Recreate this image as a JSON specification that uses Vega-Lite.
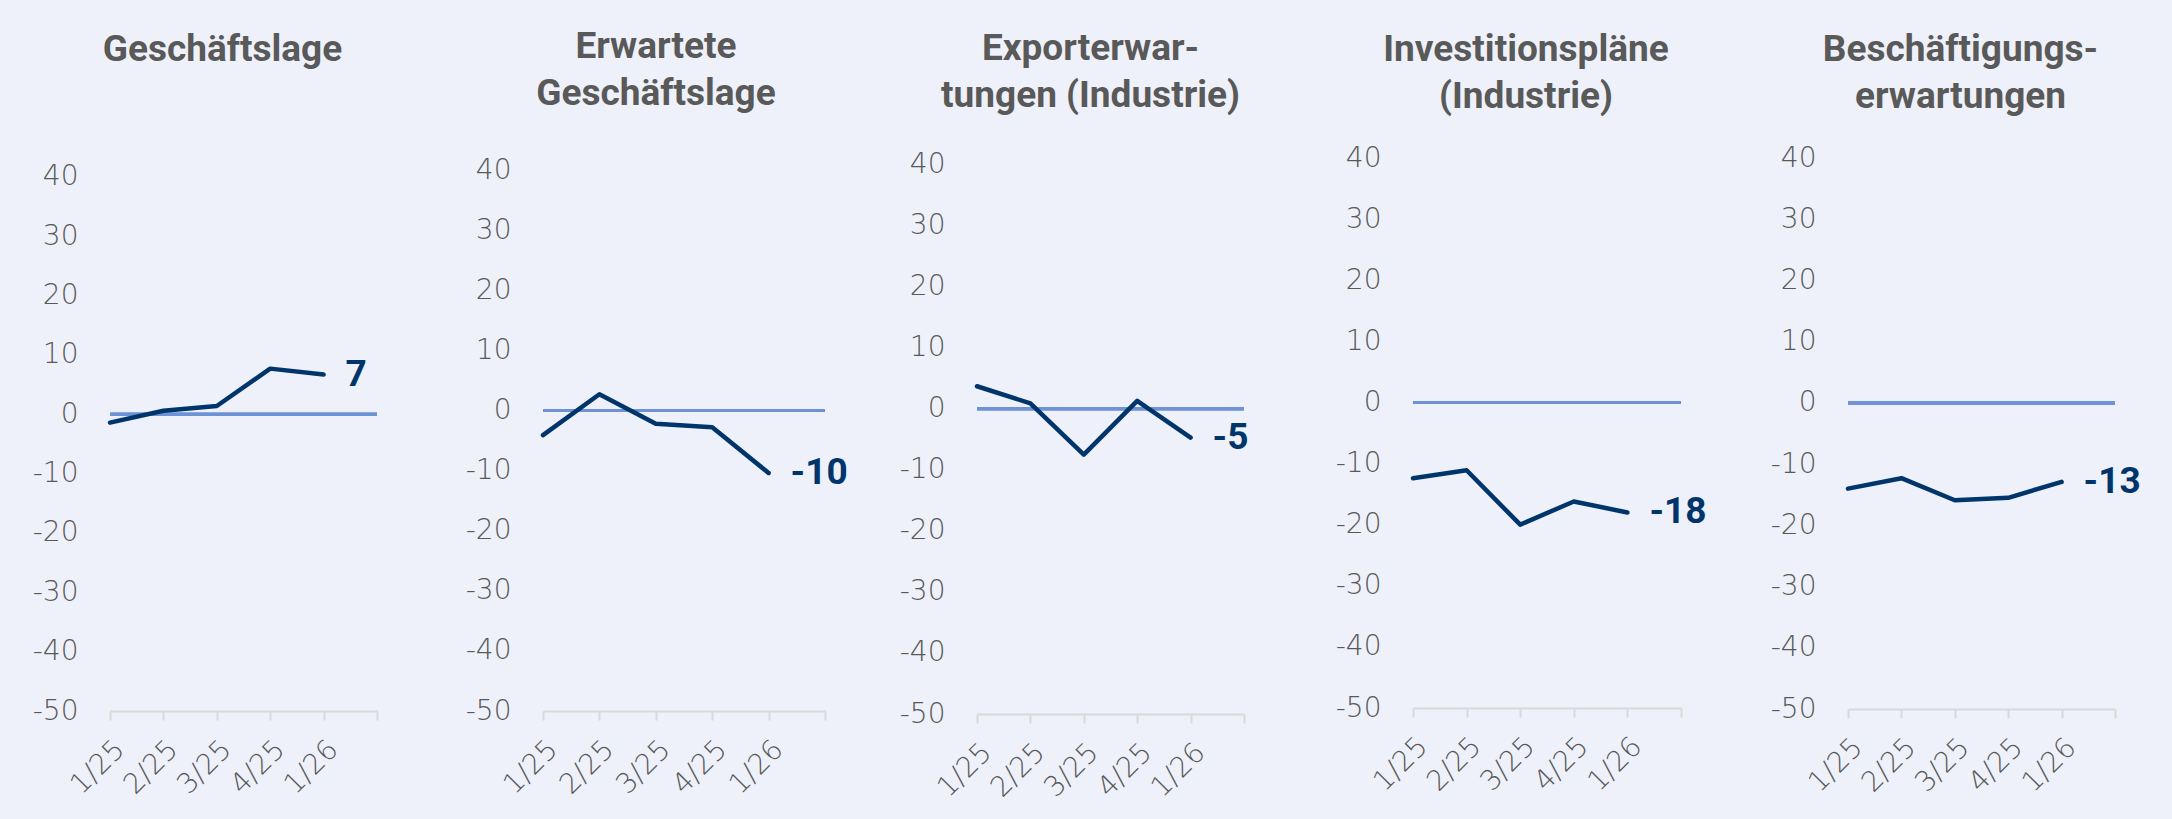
{
  "$schema": "https://vega.github.io/schema/vega-lite/v6.json",
  "background": "#eef1f9",
  "padding": {"left": 28, "top": 28, "right": 40, "bottom": 40},
  "spacing": 40,
  "align": "none",
  "config": {
    "font": "Roboto",
    "view": {"stroke": null},
    "locale": {"number": {"decimal": ",", "thousands": ".", "grouping": [3], "currency": ["", " €"], "minus": "-"}},
    "title": {"font": "Roboto", "fontSize": 37, "fontWeight": "bold", "color": "#595959", "lineHeight": 47, "anchor": "middle"},
    "axisX": {"grid": false, "domainColor": "#d9d9d9", "domainWidth": 2, "tickColor": "#d9d9d9", "tickWidth": 2, "tickSize": 9, "labelAngle": -45, "labelFontSize": 28, "labelColor": "#595959", "labelPadding": 15, "labelFont": "DejaVu Sans", "labelFontWeight": 300},
    "axisY": {"domain": false, "ticks": false, "tickSize": 0, "gridColor": "#d9d9d9", "gridWidth": 2, "labelFontSize": 28, "labelColor": "#595959", "labelPadding": 32, "labelFont": "DejaVu Sans", "labelFontWeight": 300}
  },
  "data": {"values": [
    {"reihe": "Geschäftslage", "quartal": "1/25", "wert": -1.4},
    {"reihe": "Geschäftslage", "quartal": "2/25", "wert": 0.6},
    {"reihe": "Geschäftslage", "quartal": "3/25", "wert": 1.4},
    {"reihe": "Geschäftslage", "quartal": "4/25", "wert": 7.7},
    {"reihe": "Geschäftslage", "quartal": "1/26", "wert": 6.7},
    {"reihe": "Erwartete Geschäftslage", "quartal": "1/25", "wert": -4.1},
    {"reihe": "Erwartete Geschäftslage", "quartal": "2/25", "wert": 2.7},
    {"reihe": "Erwartete Geschäftslage", "quartal": "3/25", "wert": -2.2},
    {"reihe": "Erwartete Geschäftslage", "quartal": "4/25", "wert": -2.8},
    {"reihe": "Erwartete Geschäftslage", "quartal": "1/26", "wert": -10.4},
    {"reihe": "Exporterwartungen (Industrie)", "quartal": "1/25", "wert": 3.7},
    {"reihe": "Exporterwartungen (Industrie)", "quartal": "2/25", "wert": 0.9},
    {"reihe": "Exporterwartungen (Industrie)", "quartal": "3/25", "wert": -7.5},
    {"reihe": "Exporterwartungen (Industrie)", "quartal": "4/25", "wert": 1.3},
    {"reihe": "Exporterwartungen (Industrie)", "quartal": "1/26", "wert": -4.7},
    {"reihe": "Investitionspläne (Industrie)", "quartal": "1/25", "wert": -12.4},
    {"reihe": "Investitionspläne (Industrie)", "quartal": "2/25", "wert": -11.1},
    {"reihe": "Investitionspläne (Industrie)", "quartal": "3/25", "wert": -20.0},
    {"reihe": "Investitionspläne (Industrie)", "quartal": "4/25", "wert": -16.2},
    {"reihe": "Investitionspläne (Industrie)", "quartal": "1/26", "wert": -18.0},
    {"reihe": "Beschäftigungserwartungen", "quartal": "1/25", "wert": -14.0},
    {"reihe": "Beschäftigungserwartungen", "quartal": "2/25", "wert": -12.3},
    {"reihe": "Beschäftigungserwartungen", "quartal": "3/25", "wert": -15.9},
    {"reihe": "Beschäftigungserwartungen", "quartal": "4/25", "wert": -15.5},
    {"reihe": "Beschäftigungserwartungen", "quartal": "1/26", "wert": -12.9}
  ]},
  "hconcat": [
    {
      "width": 267, "height": 553,
      "title": {"text": "Geschäftslage", "offset": 89, "dx": -21},
      "transform": [{"filter": "datum.reihe === 'Geschäftslage'"}],
      "layer": [
        {"mark": {"type": "rule", "color": "#6e92d5", "strokeWidth": 3}, "encoding": {"y": {"datum": 0, "type": "quantitative", "scale": {"domain": [-50, 43.2], "nice": false}}}},
        {"mark": {"type": "line", "color": "#00356b", "strokeWidth": 4.5, "strokeCap": "round", "strokeJoin": "round"},
         "encoding": {
           "x": {"field": "quartal", "type": "ordinal", "sort": ["1/25", "2/25", "3/25", "4/25", "1/26", " "], "scale": {"type": "point", "padding": 0, "domain": ["1/25", "2/25", "3/25", "4/25", "1/26", " "]}, "axis": {"title": null}},
           "y": {"field": "wert", "type": "quantitative", "scale": {"domain": [-50, 43.2], "nice": false}, "axis": {"title": null, "values": [-50, -40, -30, -20, -10, 0, 10, 20, 30, 40], "minExtent": 82}}
         }},
        {"mark": {"type": "text", "align": "left", "baseline": "middle", "dx": 22, "fontSize": 37, "fontWeight": "bold", "color": "#00356b"},
         "transform": [{"filter": "datum.quartal === '1/26'"}],
         "encoding": {
           "x": {"field": "quartal", "type": "ordinal", "sort": ["1/25", "2/25", "3/25", "4/25", "1/26", " "], "scale": {"type": "point", "padding": 0, "domain": ["1/25", "2/25", "3/25", "4/25", "1/26", " "]}},
           "y": {"field": "wert", "type": "quantitative"},
           "text": {"field": "wert", "type": "quantitative", "format": ".0f"}
         }}
      ]
    },
    {
      "width": 282, "height": 553,
      "title": {"text": ["Erwartete", "Geschäftslage"], "offset": 43, "dx": -28},
      "transform": [{"filter": "datum.reihe === 'Erwartete Geschäftslage'"}],
      "layer": [
        {"mark": {"type": "rule", "color": "#6e92d5", "strokeWidth": 3}, "encoding": {"y": {"datum": 0, "type": "quantitative", "scale": {"domain": [-50, 42.0], "nice": false}}}},
        {"mark": {"type": "line", "color": "#00356b", "strokeWidth": 4.5, "strokeCap": "round", "strokeJoin": "round"},
         "encoding": {
           "x": {"field": "quartal", "type": "ordinal", "sort": ["1/25", "2/25", "3/25", "4/25", "1/26", " "], "scale": {"type": "point", "padding": 0, "domain": ["1/25", "2/25", "3/25", "4/25", "1/26", " "]}, "axis": {"title": null}},
           "y": {"field": "wert", "type": "quantitative", "scale": {"domain": [-50, 42.0], "nice": false}, "axis": {"title": null, "values": [-50, -40, -30, -20, -10, 0, 10, 20, 30, 40], "minExtent": 106}}
         }},
        {"mark": {"type": "text", "align": "left", "baseline": "middle", "dx": 22, "fontSize": 37, "fontWeight": "bold", "color": "#00356b"},
         "transform": [{"filter": "datum.quartal === '1/26'"}],
         "encoding": {
           "x": {"field": "quartal", "type": "ordinal", "sort": ["1/25", "2/25", "3/25", "4/25", "1/26", " "], "scale": {"type": "point", "padding": 0, "domain": ["1/25", "2/25", "3/25", "4/25", "1/26", " "]}},
           "y": {"field": "wert", "type": "quantitative"},
           "text": {"field": "wert", "type": "quantitative", "format": ".0f"}
         }}
      ]
    },
    {
      "width": 267, "height": 556,
      "title": {"text": ["Exporterwar-", "tungen (Industrie)"], "offset": 36, "dx": -20},
      "transform": [{"filter": "datum.reihe === 'Exporterwartungen (Industrie)'"}],
      "layer": [
        {"mark": {"type": "rule", "color": "#6e92d5", "strokeWidth": 3}, "encoding": {"y": {"datum": 0, "type": "quantitative", "scale": {"domain": [-50, 41.1], "nice": false}}}},
        {"mark": {"type": "line", "color": "#00356b", "strokeWidth": 4.5, "strokeCap": "round", "strokeJoin": "round"},
         "encoding": {
           "x": {"field": "quartal", "type": "ordinal", "sort": ["1/25", "2/25", "3/25", "4/25", "1/26", " "], "scale": {"type": "point", "padding": 0, "domain": ["1/25", "2/25", "3/25", "4/25", "1/26", " "]}, "axis": {"title": null}},
           "y": {"field": "wert", "type": "quantitative", "scale": {"domain": [-50, 41.1], "nice": false}, "axis": {"title": null, "values": [-50, -40, -30, -20, -10, 0, 10, 20, 30, 40], "minExtent": 89}}
         }},
        {"mark": {"type": "text", "align": "left", "baseline": "middle", "dx": 22, "fontSize": 37, "fontWeight": "bold", "color": "#00356b"},
         "transform": [{"filter": "datum.quartal === '1/26'"}],
         "encoding": {
           "x": {"field": "quartal", "type": "ordinal", "sort": ["1/25", "2/25", "3/25", "4/25", "1/26", " "], "scale": {"type": "point", "padding": 0, "domain": ["1/25", "2/25", "3/25", "4/25", "1/26", " "]}},
           "y": {"field": "wert", "type": "quantitative"},
           "text": {"field": "wert", "type": "quantitative", "format": ".0f"}
         }}
      ]
    },
    {
      "width": 268, "height": 550,
      "title": {"text": ["Investitionspläne", "(Industrie)"], "offset": 28, "dx": -21},
      "transform": [{"filter": "datum.reihe === 'Investitionspläne (Industrie)'"}],
      "layer": [
        {"mark": {"type": "rule", "color": "#6e92d5", "strokeWidth": 3}, "encoding": {"y": {"datum": 0, "type": "quantitative", "scale": {"domain": [-50, 40], "nice": false}}}},
        {"mark": {"type": "line", "color": "#00356b", "strokeWidth": 4.5, "strokeCap": "round", "strokeJoin": "round"},
         "encoding": {
           "x": {"field": "quartal", "type": "ordinal", "sort": ["1/25", "2/25", "3/25", "4/25", "1/26", " "], "scale": {"type": "point", "padding": 0, "domain": ["1/25", "2/25", "3/25", "4/25", "1/26", " "]}, "axis": {"title": null}},
           "y": {"field": "wert", "type": "quantitative", "scale": {"domain": [-50, 40], "nice": false}, "axis": {"title": null, "values": [-50, -40, -30, -20, -10, 0, 10, 20, 30, 40], "minExtent": 109}}
         }},
        {"mark": {"type": "text", "align": "left", "baseline": "middle", "dx": 22, "fontSize": 37, "fontWeight": "bold", "color": "#00356b"},
         "transform": [{"filter": "datum.quartal === '1/26'"}],
         "encoding": {
           "x": {"field": "quartal", "type": "ordinal", "sort": ["1/25", "2/25", "3/25", "4/25", "1/26", " "], "scale": {"type": "point", "padding": 0, "domain": ["1/25", "2/25", "3/25", "4/25", "1/26", " "]}},
           "y": {"field": "wert", "type": "quantitative"},
           "text": {"field": "wert", "type": "quantitative", "format": ".0f"}
         }}
      ]
    },
    {
      "width": 267, "height": 551,
      "title": {"text": ["Beschäftigungs-", "erwartungen"], "offset": 28, "dx": -21},
      "transform": [{"filter": "datum.reihe === 'Beschäftigungserwartungen'"}],
      "layer": [
        {"mark": {"type": "rule", "color": "#6e92d5", "strokeWidth": 3}, "encoding": {"y": {"datum": 0, "type": "quantitative", "scale": {"domain": [-50, 40], "nice": false}}}},
        {"mark": {"type": "line", "color": "#00356b", "strokeWidth": 4.5, "strokeCap": "round", "strokeJoin": "round"},
         "encoding": {
           "x": {"field": "quartal", "type": "ordinal", "sort": ["1/25", "2/25", "3/25", "4/25", "1/26", " "], "scale": {"type": "point", "padding": 0, "domain": ["1/25", "2/25", "3/25", "4/25", "1/26", " "]}, "axis": {"title": null}},
           "y": {"field": "wert", "type": "quantitative", "scale": {"domain": [-50, 40], "nice": false}, "axis": {"title": null, "values": [-50, -40, -30, -20, -10, 0, 10, 20, 30, 40], "minExtent": 101}}
         }},
        {"mark": {"type": "text", "align": "left", "baseline": "middle", "dx": 22, "fontSize": 37, "fontWeight": "bold", "color": "#00356b"},
         "transform": [{"filter": "datum.quartal === '1/26'"}],
         "encoding": {
           "x": {"field": "quartal", "type": "ordinal", "sort": ["1/25", "2/25", "3/25", "4/25", "1/26", " "], "scale": {"type": "point", "padding": 0, "domain": ["1/25", "2/25", "3/25", "4/25", "1/26", " "]}},
           "y": {"field": "wert", "type": "quantitative"},
           "text": {"field": "wert", "type": "quantitative", "format": ".0f"}
         }}
      ]
    }
  ]
}
